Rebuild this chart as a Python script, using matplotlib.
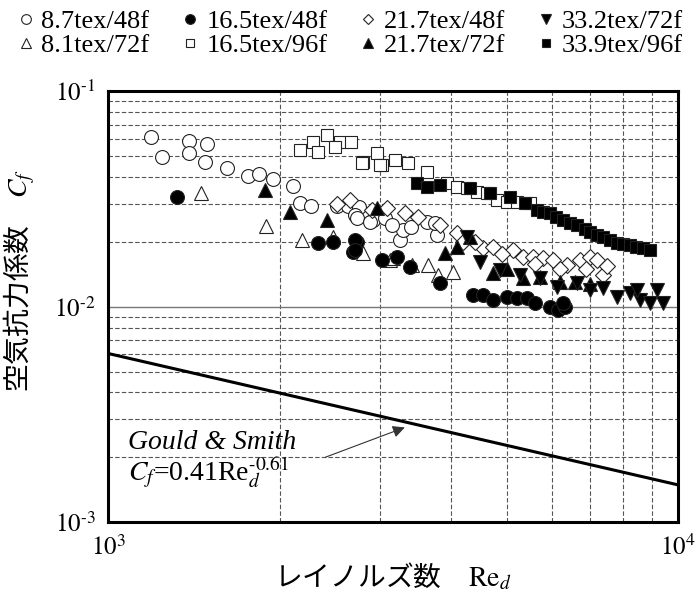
import numpy as np
import matplotlib
matplotlib.use('Agg')
import matplotlib.pyplot as plt
from matplotlib.ticker import LogLocator, NullFormatter, FuncFormatter
from matplotlib.lines import Line2D

plt.rcParams['font.family'] = ['Liberation Serif', 'Noto Sans CJK JP']
plt.rcParams['mathtext.fontset'] = 'stix'

# --- data (Re_d, Cf) ---
re_87_48 = [1190, 1244, 1387, 1387, 1492, 1480, 1617, 1761, 1840, 1946, 2112, 2173, 2271, 2520,
            2636, 2756, 2710, 2915, 3060, 2734, 2884, 3252, 3293, 3628, 3777, 3748, 3400, 3150]
cf_87_48 = [0.0612, 0.0494, 0.0586, 0.0515, 0.0568, 0.0469, 0.0439, 0.0403, 0.0412, 0.0391, 0.0362,
            0.0302, 0.0292, 0.0292, 0.0292, 0.0290, 0.0266, 0.0252, 0.0257, 0.0258, 0.0247, 0.0204,
            0.0226, 0.0247, 0.0215, 0.0244, 0.0235, 0.0240]

re_81_72 = [1456, 1893, 2190, 2482, 2802, 3124, 3163, 3414, 3641, 3793, 4029]
cf_81_72 = [0.0336, 0.0236, 0.0204, 0.0210, 0.0177, 0.0164, 0.0168, 0.0156, 0.0156, 0.0140, 0.0145]

re_165_48 = [1321, 2336, 2482, 2734, 2690, 3025, 2710, 2710, 3213, 3388, 3822, 4370, 4548, 4733,
             5012, 5219, 5433, 5612, 5963, 6158, 6336, 6290]
cf_165_48 = [0.0322, 0.0197, 0.0199, 0.0199, 0.0179, 0.0164, 0.0204, 0.0183, 0.0170, 0.0152, 0.0129,
             0.0113, 0.0113, 0.0107, 0.0111, 0.0110, 0.0110, 0.0104, 0.00995, 0.00963, 0.00995, 0.0104]

re_165_96 = [2173, 2290, 2423, 2553, 2669, 2336, 2501, 2802, 2963, 3025, 2790, 3000, 3189, 3360,
             3628, 3933, 4093, 4267, 4438, 4620, 4810, 5012, 5219, 5495]
cf_165_96 = [0.0532, 0.0580, 0.0625, 0.0580, 0.0580, 0.0521, 0.0550, 0.0469, 0.0515, 0.0454, 0.0463,
             0.0454, 0.0478, 0.0463, 0.0421, 0.0374, 0.0359, 0.0355, 0.0340, 0.0336, 0.0312, 0.0305,
             0.0305, 0.0302]

re_217_48 = [2659, 3087, 3319, 3822, 4093, 4198, 4548, 4733, 5137, 5348, 5565, 5795, 6035, 6385,
             6730, 7011, 7210, 7386, 2520, 2900, 3500, 4400, 4900, 5600, 6200, 6900, 7500]
cf_217_48 = [0.0312, 0.0286, 0.0272, 0.0239, 0.0219, 0.0199, 0.0187, 0.0189, 0.0183, 0.0170, 0.0170,
             0.0168, 0.0164, 0.0156, 0.0164, 0.0170, 0.0164, 0.0140, 0.0300, 0.0280, 0.0260, 0.0200,
             0.0176, 0.0158, 0.0150, 0.0150, 0.0155]

re_217_72 = [1886, 2086, 2423, 2963, 3902, 4315, 4733, 5348, 5726, 6209, 4100, 5000, 6600, 7000]
cf_217_72 = [0.0348, 0.0275, 0.0252, 0.0286, 0.0177, 0.0210, 0.0143, 0.0136, 0.0137, 0.0130,
             0.0190, 0.0150, 0.0130, 0.0128]

re_332_72 = [4267, 4494, 4872, 5283, 5726, 6133, 6650, 7011, 7386, 7816, 8240, 8575, 8925, 9413,
             9185, 8470]
cf_332_72 = [0.0210, 0.0161, 0.0148, 0.0140, 0.0136, 0.0123, 0.0129, 0.0119, 0.0122, 0.0111, 0.0116,
             0.0107, 0.0104, 0.0104, 0.0119, 0.0119]

re_339_96 = [3483, 3628, 3822, 4315, 4677, 5070, 5390, 5658, 5800, 5963, 6100, 6285, 6450, 6650,
             6850, 7011, 7200, 7386, 7600, 7816, 8000, 8240, 8450, 8683, 8925]
cf_339_96 = [0.0374, 0.0359, 0.0366, 0.0355, 0.0336, 0.0322, 0.0302, 0.0280, 0.0276, 0.0272, 0.0262,
             0.0252, 0.0245, 0.0239, 0.0230, 0.0222, 0.0216, 0.0210, 0.0203, 0.0197, 0.0195, 0.0193,
             0.0190, 0.0187, 0.0183]

# Gould & Smith correlation
gs_coef = 0.41
gs_exp = -0.61
re_line = np.array([1e3, 1e4])
cf_line = gs_coef * re_line ** gs_exp

series = [
    ('8.7tex/48f', re_87_48, cf_87_48, 'o', 'white', 10),
    ('8.1tex/72f', re_81_72, cf_81_72, '^', 'white', 10),
    ('16.5tex/48f', re_165_48, cf_165_48, 'o', 'black', 10),
    ('16.5tex/96f', re_165_96, cf_165_96, 's', 'white', 9),
    ('21.7tex/48f', re_217_48, cf_217_48, 'D', 'white', 8),
    ('21.7tex/72f', re_217_72, cf_217_72, '^', 'black', 10),
    ('33.2tex/72f', re_332_72, cf_332_72, 'v', 'black', 10),
    ('33.9tex/96f', re_339_96, cf_339_96, 's', 'black', 9),
]


def pow10(v, pos):
    e = int(round(np.log10(v)))
    if e < 0:
        return r'$10^{\text{-}%d}$' % (-e)
    return r'$10^{%d}$' % e


fig = plt.figure(figsize=(6.97, 5.92), dpi=100)
ax = fig.add_axes([0.155, 0.118, 0.818, 0.728])
ax.set_xscale('log')
ax.set_yscale('log')
ax.set_xlim(1e3, 1e4)
ax.set_ylim(1e-3, 1e-1)

# grid: dashed at minor decades, thin solid at 10^-2
ax.xaxis.set_minor_locator(LogLocator(base=10, subs=np.arange(2, 10)))
ax.yaxis.set_minor_locator(LogLocator(base=10, subs=np.arange(2, 10)))
ax.xaxis.set_minor_formatter(NullFormatter())
ax.yaxis.set_minor_formatter(NullFormatter())
ax.xaxis.set_major_formatter(FuncFormatter(pow10))
ax.yaxis.set_major_formatter(FuncFormatter(pow10))
ax.grid(which='minor', ls=(0, (4, 2)), color='#555555', lw=0.8)
ax.grid(which='major', axis='y', ls='-', color='#777777', lw=1.0)
ax.set_axisbelow(True)
ax.tick_params(which='both', length=0, pad=9, labelsize=18)

for sp in ax.spines.values():
    sp.set_linewidth(2.2)

handles = []
for name, xs, ys, m, fc, ms in series:
    ax.plot(xs, ys, ls='none', marker=m, ms=ms, mfc=fc, mec='#222222', mew=0.8)
    handles.append(Line2D([], [], ls='none', marker=m, ms=ms * 0.7, mfc=fc, mec='#222222',
                          mew=0.8, label=name))

ax.plot(re_line, cf_line, color='black', lw=2.2)

ax.annotate('', xy=(3350, 0.00278), xytext=(2380, 0.00198),
            arrowprops=dict(arrowstyle='-|>', color='#333333', lw=0.8, mutation_scale=18))
ax.text(1085, 0.00233, 'Gould & Smith', fontsize=20, style='italic', va='center')
ax.text(1085, 0.00170, r'$C_f$=0.41Re$_d^{\text{-}0.61}$', fontsize=20, va='center')

ax.set_xlabel('レイノルズ数\u3000$\\mathrm{Re}_d$', fontsize=20,
              family=['Noto Sans CJK JP', 'Liberation Serif'], labelpad=1)
ax.set_ylabel('空気抗力係数\u3000$C_f$', fontsize=20,
              family=['Noto Sans CJK JP', 'Liberation Serif'])
ax.yaxis.set_label_coords(-0.125, 0.56)

fig.legend(handles=handles, loc='upper center', bbox_to_anchor=(0.5, 1.01), ncol=4,
           frameon=False, fontsize=19, handletextpad=0.15, handlelength=0.9,
           columnspacing=1.1, labelspacing=0.0, borderaxespad=0.2)

fig.savefig('out.png', dpi=100)
